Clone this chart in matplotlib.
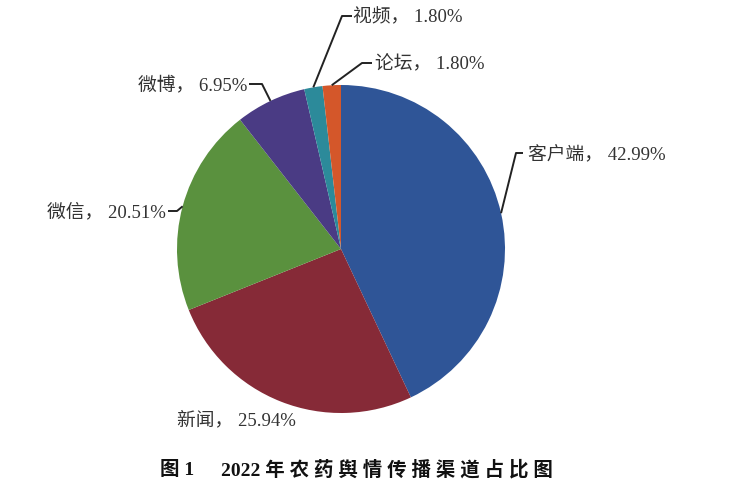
import numpy as np
import matplotlib.pyplot as plt

# Data
labels = ['客户端', '新闻', '微信', '微博', '视频', '论坛']
shares = [42.99, 25.94, 20.51, 6.95, 1.80, 1.80]
colors = ['#2F5597', '#862A37', '#5A913E', '#4A3B84', '#2C8A9A', '#D4572A']
title_head = '图 1'
title_body = '2022 年农药舆情传播渠道占比图'

W, H = 738, 498
fig = plt.figure(figsize=(W / 100, H / 100), dpi=100)
ax = fig.add_axes([0, 0, 1, 1])

# pie in pixel space (y axis points down, so counterclock=True draws clockwise)
cx, cy, r = 341, 249, 164
wedges, _ = ax.pie(shares, colors=colors, startangle=-90, counterclock=True,
                   center=(cx, cy), radius=r, frame=True)
ax.set_xlim(0, W)
ax.set_ylim(H, 0)
ax.set_aspect('equal')
ax.axis('off')

fam = ['Liberation Serif', 'Noto Sans CJK SC']
fs = 13.5

# label placement: (elbow, line end, text pos, ha)
place = {
    '客户端': ((516, 153), (523, 153), (528, 154), 'left'),
    '新闻': (None, None, (236, 420), 'center'),
    '微信': ((177, 211), (168, 211), (166, 212), 'right'),
    '微博': ((262, 84), (249, 84), (247, 85), 'right'),
    '视频': ((342, 16), (352, 16), (353, 17), 'left'),
    '论坛': ((362, 63), (372, 63), (375, 64), 'left'),
}

for w, lab, val in zip(wedges, labels, shares):
    elbow, end, tpos, ha = place[lab]
    if elbow is not None:
        mid = np.deg2rad((w.theta1 + w.theta2) / 2)
        ex = cx + r * np.cos(mid)
        ey = cy + r * np.sin(mid)
        ax.plot([ex, elbow[0], end[0]], [ey, elbow[1], end[1]],
                color='#222222', lw=1.4, solid_capstyle='butt')
    ax.text(tpos[0], tpos[1], f'{lab}， {val:.2f}%', ha=ha, va='center',
            fontsize=fs, family=fam, color='#333333')

# caption: head and letter-spaced body
ax.text(160, 470, title_head, ha='left', va='center', fontsize=14,
        fontweight='bold', family=fam, color='#111111')
body = title_body.split(' ', 1)
spaced = body[0] + ' ' + ' '.join(body[1])
ax.text(221, 470, spaced, ha='left', va='center', fontsize=14,
        fontweight='bold', family=fam, color='#111111')

fig.savefig('out.png', dpi=100)
